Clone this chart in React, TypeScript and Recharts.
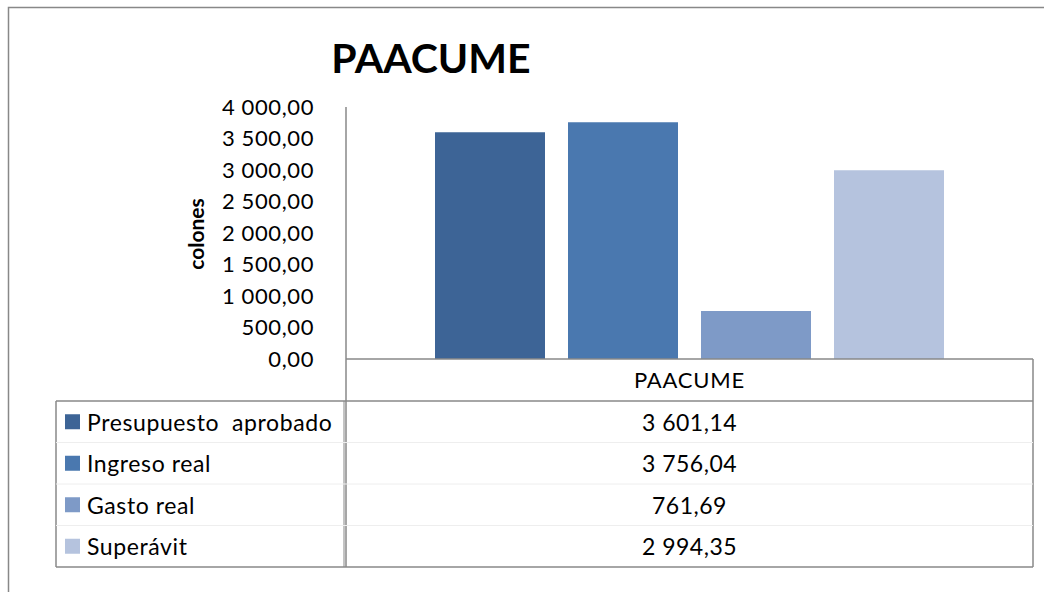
import React from 'react';
import { BarChart, Bar, XAxis, YAxis } from 'recharts';

const categories = ['PAACUME'];
const seriesNames = ['Presupuesto  aprobado', 'Ingreso real', 'Gasto real', 'Superávit'];
const seriesKeys = ['presupuesto', 'ingreso', 'gasto', 'superavit'];
const seriesValues = [3601.14, 3756.04, 761.69, 2994.35];
const seriesColors = ['#3D6496', '#4A78AF', '#7E9AC7', '#B5C3DE'];
const yTicks = [0, 500, 1000, 1500, 2000, 2500, 3000, 3500, 4000];

const data = categories.map((c) => {
  const row: Record<string, any> = { name: c };
  seriesKeys.forEach((k, i) => {
    row[k] = seriesValues[i];
  });
  return row;
});

const fmt = (v: number) => {
  const s = v.toFixed(2);
  const [intPart, dec] = s.split('.');
  const withSpaces = intPart.replace(/\B(?=(\d{3})+(?!\d))/g, ' ');
  return `${withSpaces},${dec}`;
};

const FONT = 'Lato, "Open Sans", sans-serif';
const GRAY = '#888888';

// layout
const W = 1044;
const H = 592;
const plotLeft = 346;
const plotRight = 1033;
const plotTop = 107;
const plotBottom = 359;
const xAxisH = 40;
const yAxisW = 60;
const tableLeft = 56;
const tableTop = 401;
const tableBottom = 567;
const rowH = (tableBottom - tableTop) / 4;

export default function App() {
  return (
    <div
      style={{
        position: 'absolute',
        left: 0,
        top: 0,
        width: W,
        height: H,
        background: '#ffffff',
        overflow: 'hidden',
        fontFamily: FONT,
      }}
    >
      <div style={{ position: 'absolute', left: 0, top: 0 }}>
        <BarChart
          width={W}
          height={H}
          data={data}
          margin={{
            top: plotTop,
            right: W - plotRight,
            bottom: H - plotBottom - xAxisH,
            left: plotLeft - yAxisW,
          }}
          barSize={110}
          barGap={23}
        >
          <XAxis
            dataKey="name"
            axisLine={{ stroke: GRAY, strokeWidth: 1.5 }}
            tickLine={false}
            tickSize={0}
            tickMargin={13}
            height={xAxisH}
            tick={{ fill: '#000', fontSize: 22, fontFamily: FONT, letterSpacing: 0.8 }}
          />
          <YAxis
            width={yAxisW}
            domain={[0, 4000]}
            ticks={yTicks}
            interval={0}
            tickFormatter={fmt}
            axisLine={{ stroke: GRAY, strokeWidth: 1.5 }}
            tickLine={false}
            tickSize={0}
            tickMargin={32}
            tick={{ fill: '#000', fontSize: 22, fontFamily: FONT, letterSpacing: 0.6 }}
          />
          {seriesKeys.map((k, i) => (
            <Bar key={k} dataKey={k} name={seriesNames[i]} fill={seriesColors[i]} isAnimationActive={false} />
          ))}
        </BarChart>
      </div>
      <svg
        width={W}
        height={H}
        style={{ position: 'absolute', left: 0, top: 0, pointerEvents: 'none' }}
      >
        {/* outer frame */}
        <rect x={8.5} y={7.5} width={1100} height={700} fill="none" stroke={GRAY} strokeWidth={1.5} />
        {/* title */}
        <text x={431} y={73} textAnchor="middle" fontSize={41} fontWeight="bold" fontFamily={FONT} fill="#000">
          PAACUME
        </text>
        {/* axis title */}
        <text
          x={0}
          y={0}
          transform="translate(204 234) rotate(-90)"
          textAnchor="middle"
          fontSize={21}
          fontWeight="bold"
          fontFamily={FONT}
          fill="#000"
        >
          colones
        </text>
        {/* category row box */}
        <line x1={plotLeft} y1={plotBottom} x2={plotLeft} y2={tableBottom} stroke={GRAY} strokeWidth={1.5} />
        <line x1={plotRight} y1={plotBottom} x2={plotRight} y2={tableBottom} stroke={GRAY} strokeWidth={1.5} />
        <line x1={tableLeft} y1={tableTop} x2={plotRight} y2={tableTop} stroke={GRAY} strokeWidth={1.5} />
        <line x1={tableLeft} y1={tableBottom} x2={plotRight} y2={tableBottom} stroke={GRAY} strokeWidth={1.5} />
        <line x1={tableLeft} y1={tableTop} x2={tableLeft} y2={tableBottom} stroke={GRAY} strokeWidth={1.5} />
        <line x1={plotLeft - 2} y1={tableTop} x2={plotLeft - 2} y2={tableBottom} stroke={GRAY} strokeWidth={1} />
        {[1, 2, 3].map((r) => (
          <line
            key={r}
            x1={tableLeft}
            y1={tableTop + r * rowH}
            x2={plotRight}
            y2={tableTop + r * rowH}
            stroke="#eeeeee"
            strokeWidth={1}
          />
        ))}
        {seriesNames.map((n, i) => {
          const cy = tableTop + rowH * (i + 0.5);
          return (
            <g key={n}>
              <rect x={65} y={cy - 7.5} width={15} height={15} fill={seriesColors[i]} />
              <text
                x={87}
                y={cy}
                dominantBaseline="central"
                fontSize={23}
                fontFamily={FONT}
                fill="#000"
                letterSpacing={0.6}
                style={{ whiteSpace: 'pre' }}
              >
                {n}
              </text>
              <text
                x={(plotLeft + plotRight) / 2}
                y={cy}
                dominantBaseline="central"
                textAnchor="middle"
                fontSize={23}
                fontFamily={FONT}
                fill="#000"
                letterSpacing={0.5}
              >
                {fmt(seriesValues[i])}
              </text>
            </g>
          );
        })}
      </svg>
    </div>
  );
}
